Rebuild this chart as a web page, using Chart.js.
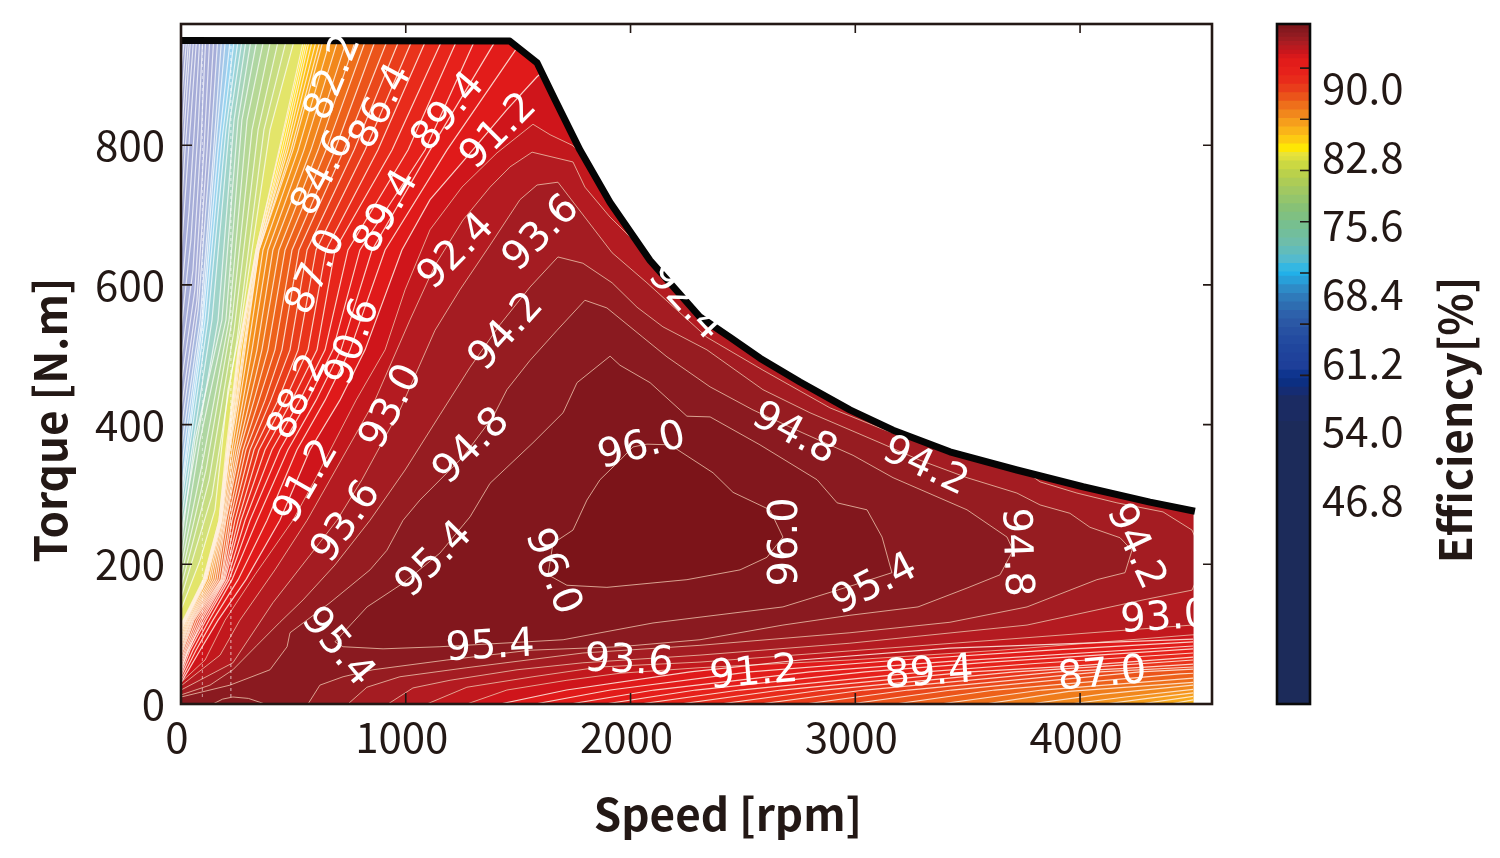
<!DOCTYPE html>
<html><head><meta charset="utf-8">
<script src="https://cdn.jsdelivr.net/npm/chart.js@4"></script>
<style>html,body{margin:0;padding:0;background:#fff}canvas{position:absolute;left:0;top:0}</style>
</head><body>
<canvas id="main" width="1500" height="858"></canvas>
<canvas id="bar" width="1500" height="858"></canvas>
<script>
const speedTicks=[0,1000,2000,3000,4000];
const torqueTicks=[0,200,400,600,800];
const barTickValues=[90.0,82.8,75.6,68.4,61.2,54.0,46.8];
const barLevels=[0.6,40.2,43.8,45,46.2,47.4,48.6,49.8,51,52.2,53.4,54.6,55.8,57,58.2,59.4,60.6,61.2,62.4,63.6,64.8,66,67.2,68.4,69.6,70.8,72,73.2,74.4,75.6,76.8,77.4,78,79.2,80.4,81.6,82.8,84,85.2,86.4,87.6,88.8,90,91.2,91.8,92.4,93,93.6,94.2,94.8,95.4,96];
const stopValues=[0,40.3,43.8,46.2,48,50.9,54.4,57.2,59.4,61.2,62.6,65,67.8,70,72.8,75.6,77.7,78.1,79.8,81.2,82.7,84.1,85.5,86.9,88.3,89.7,91.2,91.8,92.4,93,93.6,94.2,94.8,95.4,96,97];
const stopColors=['#1c2b5a','#1c2b5a','#1a2a6b','#07308a','#1e3f99','#21479e','#2c5aa6','#2f74b6','#2d93ce','#1fb6ee','#4fb9d3','#6cbdae','#77bf8f','#85c178','#a3c860','#c0d445','#e8e33a','#fff200','#fdcb12','#fab01a','#f4951d','#ef7a1b','#ec5a1a','#e93e1b','#e82a1b','#e61e1b','#e01a1a','#cf151b','#c2181d','#b41b21','#a41c22','#961c21','#8a1a20','#82171d','#7c1419','#6f1419'];
const paleValues=[20,53,57,60,63,66,69,72,75,77,78.1];
const paleColors=['#a3a8d4','#a6add8','#a6c2e6','#98d3f0','#9ad3d6','#a6d4bc','#afd6a2','#bcd98a','#d2e07a','#e9e765','#fff200'];

const envelopeSpeed=[0,1463,1584,1664,1775,1909,2087,2309,2443,2576,2754,2976,3168,3421,3719,4013,4311,4511];
const envelopeTorque=[950,949,918,865,793,718,635,554,525,495,461,421,392,361,335,311,289,276];

const rowTorques=[120,178,263,364,435,507,650,793,960];
const s912=[142,254,383,516,641,752,908,1183,1539];
const s906=[125,227,338,476,601,712,850,1108,1419];
const s900=[111,214,307,440,565,676,796,1086,1321];
const s894=[102,205,285,405,529,641,743,1010,1241];
const s888=[93,196,267,374,494,605,685,939,1175];
const s882=[85,191,254,347,463,565,645,876,1103];
const s876=[76,187,240,325,432,521,601,819,1041];
const s870=[67,182,227,307,400,485,561,770,983];
const s864=[58,178,218,289,374,449,525,725,930];
const s858=[53,169,209,276,347,418,494,685,876];
const s852=[49,160,200,262,325,387,463,645,832];
const s846=[44,151,196,254,307,360,436,610,787];
const s840=[40,142,191,245,289,338,409,578,747];
const s834=[36,133,187,236,276,316,387,547,707];
const s828=[31,125,182,227,262,298,365,521,672];
const s822=[27,116,180,218,254,285,347,498,641];
const s816=[22,111,178,214,249,280,347,489,627];
const s810=[22,111,178,214,245,276,343,476,610];
const s804=[18,107,174,209,240,267,343,467,592];
const s798=[18,107,174,209,236,262,338,458,578];
const s792=[13,102,174,205,231,258,338,449,569];
const s786=[13,102,169,205,231,258,334,440,561];
const s780=[9,98,169,200,227,254,334,436,552];

const b918=[[4503,93],[3421,80],[2754,63],[2265,46],[1715,20],[1419,0]];
const b912=[[4503,89],[3866,77],[3199,63],[2531,46],[1910,20],[1575,0]];
const b906=[[4503,83],[3421,61],[2798,46],[2105,20],[1731,0]];
const b900=[[4503,79],[3600,60],[3043,46],[2290,20],[1886,0]];
const b894=[[4503,73],[3800,58],[3310,46],[2486,20],[2042,0]];
const b888=[[4503,67],[4000,55],[3510,46],[2670,20],[2220,0]];
const b882=[[4503,63],[4100,54],[3710,46],[2857,20],[2398,0]];
const b876=[[4503,57],[4200,51],[3902,46],[3040,20],[2576,0]];
const b870=[[4503,53],[4089,46],[3236,20],[2776,0]];
const b864=[[4503,50],[4267,46],[3428,20],[2976,0]];
const b858=[[4503,44],[4445,43],[3620,20],[3177,0]];
const b852=[[4503,37],[3830,20],[3377,0]];
const b846=[[4503,31],[3950,18],[3577,0]];
const b840=[[4503,27],[4100,14],[3777,0]];
const b834=[[4503,21],[4200,10],[3955,0]];
const b828=[[4503,16],[4300,8],[4111,0]];
const b822=[[4503,11],[4267,0]];
const b816=[[4503,6],[4400,0]];

const l918=[[0,30],[85,77],[165,120],[289,178],[440,263],[574,364],[707,435],[819,507],[983,650],[1108,722],[1250,775],[1450,851],[1584,898],[1700,930]];

const c960=[[2073,372],[2176,371],[2367,331],[2456,303],[2620,278],[2678,239],[2607,210],[2487,192],[2251,178],[1895,167],[1717,170],[1633,185],[1655,230],[1744,249],[1806,292],[1864,321],[1953,349],[2011,368],[2073,372]];
const c954=[[1909,498],[1953,485],[2087,460],[2251,412],[2354,411],[2576,371],[2830,321],[2919,288],[3052,278],[3119,239],[3163,188],[2990,170],[2678,139],[2100,116],[1700,92],[1152,82],[899,79],[721,82],[685,89],[828,139],[988,173],[1152,216],[1286,268],[1375,316],[1566,374],[1700,417],[1762,460],[1909,498]];
const lobe954=[[142,0],[185,7],[231,10],[300,8],[374,0]];
const c948=[[0,10],[129,20],[218,27],[396,49],[472,82],[485,102],[663,145],[841,192],[916,220],[988,263],[1063,292],[1255,354],[1388,411],[1450,450],[1553,492],[1673,535],[1797,578],[1895,567],[2055,525],[2162,497],[2354,454],[2545,421],[2767,388],[2990,356],[3168,324],[3497,278],[3675,239],[3702,220],[3644,185],[3497,166],[3279,139],[2976,127],[2678,113],[2309,92],[1953,82],[1553,77],[1183,63],[854,49],[721,39],[618,27],[565,0]];
const c942=[[0,13],[129,27],[231,49],[338,84],[440,117],[543,149],[685,199],[841,263],[997,335],[1152,414],[1286,482],[1419,543],[1553,597],[1677,640],[1788,631],[1918,603],[2029,568],[2144,540],[2340,507],[2589,450],[2798,417],[3110,374],[3288,349],[3497,324],[3719,302],[3822,285],[3955,273],[4044,253],[4178,238],[4231,220],[4200,188],[4075,178],[3764,139],[3421,117],[2976,102],[2309,84],[1788,73],[1272,52],[974,39],[827,24],[743,0]];
const c936=[[0,20],[231,59],[409,145],[574,213],[694,263],[805,321],[974,421],[1130,535],[1241,593],[1375,657],[1508,722],[1584,743],[1677,747],[1806,693],[1918,646],[2073,603],[2340,525],[2589,478],[2887,424],[3110,395],[3199,384],[3466,378],[3688,349],[3822,318],[3986,302],[4164,288],[4369,275],[4498,249],[4556,206],[4498,163],[4280,149],[3764,113],[2976,87],[2309,70],[1788,59],[1495,49],[1197,34],[1032,23],[921,0]];
const c930=[[0,26],[174,70],[262,120],[418,192],[561,263],[663,321],[863,435],[1019,550],[1130,628],[1255,693],[1375,740],[1464,769],[1562,790],[1744,776],[1797,740],[1909,697],[2100,636],[2265,586],[3644,407],[4556,321],[4556,113],[4498,113],[3644,92],[2976,76],[2309,60],[1864,53],[1566,39],[1272,24],[1094,0]];
const c924=[[0,31],[107,63],[196,120],[329,185],[498,263],[596,321],[779,435],[908,507],[997,593],[1108,679],[1250,740],[1406,789],[1566,830],[1642,815],[1740,800],[2309,650],[4556,321],[4556,99],[4498,99],[3644,77],[2976,63],[2309,52],[1953,44],[1717,34],[1450,20],[1272,0]];

const c765=[[0,135],[85,206],[151,278],[209,450],[262,535],[396,822],[512,960]];
const c750=[[0,152],[138,299],[249,521],[369,822],[476,960]];
const c735=[[0,167],[125,321],[236,535],[343,822],[440,960]];
const c720=[[0,182],[111,335],[227,550],[316,822],[405,960]];
const c705=[[0,196],[102,356],[214,550],[294,836],[374,960]];
const c690=[[0,210],[85,378],[200,550],[271,836],[343,960]];
const c675=[[0,228],[62,378],[182,550],[254,836],[316,960]];
const c660=[[0,245],[165,550],[236,836],[294,960]];
const c645=[[0,263],[138,550],[218,836],[276,960]];
const c630=[[0,282],[120,550],[200,822],[258,960]];
const c615=[[0,296],[107,550],[182,807],[240,960]];
const c600=[[0,306],[98,550],[165,793],[222,960]];
const c585=[[0,335],[93,550],[151,786],[200,960]];
const c570=[[0,364],[85,550],[142,779],[182,960]];
const c550=[[0,392],[76,564],[129,786],[165,960]];
const c530=[[0,421],[71,578],[116,793],[147,960]];
const c510=[[0,457],[62,593],[102,793],[129,960]];
const c490=[[0,492],[53,621],[89,807],[111,960]];
const c470=[[0,535],[44,664],[76,822],[98,960]];
const c450=[[0,578],[36,707],[62,836],[85,960]];
const c420=[[0,643],[27,764],[71,960]];
const c390=[[0,700],[18,793],[58,960]];
const c360=[[0,757],[44,960]];
const c330=[[0,807],[36,960]];
const c300=[[0,858],[27,960]];
const c270=[[0,908],[18,960]];

const gridLine1=[[95,10],[95,945]];
const gridLine2=[[222,10],[222,945]];

const labelTexts=['82.2','84.6','86.4','89.4','91.2','89.4','87.0','92.4','93.6','88.2','90.6','94.2','93.0','91.2','94.8','93.6','96.0','95.4','96.0','96.0','95.4','95.4','93.6','91.2','89.4','87.0','95.4','94.8','94.2','94.8','94.2','93.0','92.4'];
const labelSpeeds=[681,636,894,1192,1415,917,605,1228,1606,525,770,1450,939,561,1295,739,2051,1130,1650,2696,694,1375,1993,2549,3328,4098,3088,2727,3310,3711,4244,4378,2242];
const labelTorques=[897,759,855,847,819,704,618,647,673,439,518,532,425,318,368,260,368,206,189,232,81,81,60,43,43,41,170,386,339,217,225,122,575];
const labelAngles=[-68,-62,-62,-50,-45,-60,-65,-45,-45,-65,-70,-48,-62,-60,-45,-55,-15,-45,68,-90,50,-3,3,-5,-4,-5,-27,28,25,88,65,-4,47];

const tickFont='"Noto Sans CJK JP"';
const ink='#231815';

function lerpColor(v,vals,cols){
  if(v<=vals[0])return cols[0];
  for(let i=1;i<vals.length;i++){
    if(v<=vals[i]){
      const t=(v-vals[i-1])/(vals[i]-vals[i-1]);
      const a=cols[i-1],b=cols[i];
      const ch=k=>Math.round(parseInt(a.substr(k,2),16)*(1-t)+parseInt(b.substr(k,2),16)*t);
      return 'rgb('+ch(1)+','+ch(3)+','+ch(5)+')';
    }
  }
  return cols[cols.length-1];
}
const barColor=v=>lerpColor(v,stopValues,stopColors);
const fieldColor=v=>v<78.1?lerpColor(v,paleValues,paleColors):barColor(v);

function row(edge,extra,speeds){
  const out=[[0,edge]];
  if(extra)out.push([extra,77]);
  speeds.forEach((s,i)=>out.push([s,rowTorques[i]]));
  return out;
}
const contours=[
 [27,c270,'wrap'],[30,c300,'wrap'],[33,c330,'wrap'],[36,c360,'wrap'],[39,c390,'wrap'],[42,c420,'wrap'],[45,c450,'wrap'],[47,c470,'wrap'],[49,c490,'wrap'],[51,c510,'wrap'],[53,c530,'wrap'],[55,c550,'wrap'],[57,c570,'wrap'],[58.5,c585,'wrap'],[60,c600,'wrap'],[61.5,c615,'wrap'],[63,c630,'wrap'],[64.5,c645,'wrap'],[66,c660,'wrap'],[67.5,c675,'wrap'],[69,c690,'wrap'],[70.5,c705,'wrap'],[72,c720,'wrap'],[73.5,c735,'wrap'],[75,c750,'wrap'],[76.5,c765,'wrap'],
 [78,row(116,0,s780),'wrap'],[78.6,row(115,0,s786),'wrap'],[79.2,row(114,0,s792),'wrap'],[79.8,row(112,0,s798),'wrap'],[80.4,row(109,0,s804),'wrap'],[81,row(106,0,s810),'wrap'],
 [81.6,row(103,0,s816),'split',b816],[82.2,row(99,0,s822),'split',b822],[82.8,row(94,0,s828),'split',b828],[83.4,row(90,0,s834),'split',b834],[84,row(86,0,s840),'split',b840],[84.6,row(82,0,s846),'split',b846],[85.2,row(77,0,s852),'split',b852],[85.8,row(73,0,s858),'split',b858],[86.4,row(69,0,s864),'split',b864],[87,row(64,0,s870),'split',b870],[87.6,row(60,0,s876),'split',b876],[88.2,row(56,0,s882),'split',b882],[88.8,row(52,0,s888),'split',b888],[89.4,row(47,31,s894),'split',b894],[90,row(43,40,s900),'split',b900],[90.6,row(39,53,s906),'split',b906],[91.2,row(34,67,s912),'split',b912],[91.8,l918,'split',b918],
 [92.4,c924,'origin'],[93,c930,'origin'],[93.6,c936,'origin'],[94.2,c942,'origin'],[94.8,c948,'origin'],[95.4,c954,'loop'],[95.4,lobe954,'loop'],[96,c960,'loop']
];
const pts=a=>a.map(p=>({x:p[0],y:p[1]}));
function contourData(c){
  const d=pts(c[1]);
  if(c[3]){d.push({x:null,y:null});pts(c[3]).forEach(p=>d.push(p));}
  return d;
}
function lineColor(l){return l>=92?'rgba(238,196,172,0.8)':l>=78?'rgba(255,240,228,0.85)':'rgba(255,255,255,0.72)';}
const contourSets=contours.map(c=>({
  type:'scatter',showLine:true,data:contourData(c),pointRadius:0,borderWidth:c[0]>=92?1:1.2,
  borderColor:lineColor(c[0]),fill:false,tension:0,spanGaps:false,level:c[0],closure:c[2]
}));
const envelopeData=envelopeSpeed.map((s,i)=>({x:s,y:envelopeTorque[i]}));
const maskData=envelopeData.slice(0,-1).concat([{x:4505,y:277},{x:4505,y:0},{x:4587,y:0}]);
const topSets=[
 {type:'scatter',showLine:true,data:envelopeData,pointRadius:0,borderWidth:7,borderColor:'#050505',fill:false,borderJoinStyle:'round'},
 {type:'scatter',showLine:true,data:maskData,pointRadius:0,borderWidth:0,borderColor:'rgba(0,0,0,0)',backgroundColor:'#ffffff',fill:'end'},
 {type:'scatter',showLine:true,data:pts(gridLine1),pointRadius:0,borderWidth:1,borderColor:'rgba(255,255,255,0.55)',borderDash:[3,3],fill:false},
 {type:'scatter',showLine:true,data:pts(gridLine2),pointRadius:0,borderWidth:1,borderColor:'rgba(255,255,255,0.7)',borderDash:[3,3],fill:false}
];
const offset=topSets.length;

const fieldPlugin={id:'field',beforeDatasetsDraw(chart){
  const c=chart.ctx,ca=chart.chartArea,xs=chart.scales.x,ys=chart.scales.y;
  c.save();c.beginPath();c.rect(ca.left,ca.top,ca.width,ca.height);c.clip();
  c.fillStyle=fieldColor(24);c.fillRect(ca.left,ca.top,ca.width,ca.height);
  const ox=xs.getPixelForValue(0),oy=ys.getPixelForValue(0);
  contourSets.forEach((ds,i)=>{
    const m=chart.getDatasetMeta(i+offset).data;
    c.beginPath();let gap=false,first=true;
    m.forEach(p=>{
      if(p.skip){c.lineTo(ca.right,ca.top);gap=true;return;}
      if(gap){c.lineTo(ca.right,p.y);gap=false;}
      if(first){c.moveTo(p.x,p.y);first=false;}else c.lineTo(p.x,p.y);
    });
    if(ds.closure==='wrap'){c.lineTo(ca.right,ca.top);c.lineTo(ca.right,ca.bottom);c.lineTo(ox,oy);}
    else if(ds.closure!=='loop'){c.lineTo(ox,oy);}
    c.closePath();c.fillStyle=fieldColor(ds.level);c.fill();
  });
  c.restore();
}};
const overlayPlugin={id:'overlay',afterDatasetsDraw(chart){
  const c=chart.ctx,ca=chart.chartArea,xs=chart.scales.x,ys=chart.scales.y;
  c.save();c.beginPath();c.rect(ca.left,ca.top,ca.width,ca.height);c.clip();
  c.fillStyle='#ffffff';c.font='40px "DejaVu Sans"';c.textAlign='center';c.textBaseline='middle';
  labelTexts.forEach((t,i)=>{
    c.save();c.translate(xs.getPixelForValue(labelSpeeds[i]),ys.getPixelForValue(labelTorques[i]));
    c.rotate(labelAngles[i]*Math.PI/180);c.fillText(t,0,0);c.restore();
  });
  c.restore();
  c.strokeStyle=ink;c.lineWidth=1.6;c.beginPath();
  speedTicks.forEach(v=>{if(!v)return;const x=xs.getPixelForValue(v);c.moveTo(x,ca.bottom);c.lineTo(x,ca.bottom-11);c.moveTo(x,ca.top);c.lineTo(x,ca.top+9);});
  torqueTicks.forEach(v=>{if(!v)return;const y=ys.getPixelForValue(v);c.moveTo(ca.left,y);c.lineTo(ca.left+11,y);c.moveTo(ca.right,y);c.lineTo(ca.right-9,y);});
  c.stroke();
  c.lineWidth=2.6;c.strokeRect(ca.left,ca.top,ca.width,ca.height);
  c.fillStyle=ink;c.font='bold 44px '+tickFont;c.textAlign='center';c.textBaseline='middle';
  c.fillText('Speed [rpm]',728,814);
  c.save();c.translate(50,420);c.rotate(-Math.PI/2);c.fillText('Torque [N.m]',0,0);c.restore();
}};
new Chart(document.getElementById('main'),{
  type:'scatter',
  data:{datasets:topSets.concat(contourSets)},
  options:{responsive:false,animation:false,devicePixelRatio:1,
    layout:{padding:{top:24,right:288,left:0,bottom:0}},
    plugins:{legend:{display:false},tooltip:{enabled:false}},
    events:[],
    scales:{
      x:{type:'linear',min:0,max:4587,grid:{display:false},border:{display:false},
        afterBuildTicks:a=>{a.ticks=speedTicks.map(v=>({value:v}));},
        afterFit:a=>{a.height=154;a.paddingLeft=0;a.paddingRight=0;},
        ticks:{font:{family:tickFont,size:42},color:ink,padding:0,labelOffset:-4,maxRotation:0,autoSkip:false,callback:v=>String(v)}},
      y:{type:'linear',min:0,max:973.5,grid:{display:false},border:{display:false},
        afterBuildTicks:a=>{a.ticks=torqueTicks.map(v=>({value:v}));},
        afterFit:a=>{a.width=181;a.paddingTop=0;a.paddingBottom=0;},
        ticks:{font:{family:tickFont,size:42},color:ink,padding:8,autoSkip:false,callback:v=>String(v)}}
    }
  },
  plugins:[fieldPlugin,overlayPlugin]
});

const barSets=barLevels.map((lo,i)=>{
  const hi=i+1<barLevels.length?barLevels[i+1]:96.2;
  return {data:[[lo,hi+0.15]],backgroundColor:barColor((lo+hi)/2),borderWidth:0,barPercentage:1,categoryPercentage:1,yAxisID:'y'};
});
const barFrame={id:'barFrame',afterDatasetsDraw(chart){
  const c=chart.ctx,ca=chart.chartArea,ys=chart.scales.y;
  c.strokeStyle=ink;c.lineWidth=1.6;c.beginPath();
  barTickValues.forEach(v=>{const y=ys.getPixelForValue(v);c.moveTo(ca.right,y);c.lineTo(ca.right-10,y);});
  c.stroke();
  c.strokeStyle='#0a0a0a';c.lineWidth=2.6;c.strokeRect(ca.left,ca.top,ca.width,ca.height);
  c.save();c.translate(1455,420);c.rotate(-Math.PI/2);
  c.fillStyle=ink;c.font='bold 44px '+tickFont;c.textAlign='center';c.textBaseline='middle';
  c.fillText('Efficiency[%]',0,0);c.restore();
}};
new Chart(document.getElementById('bar'),{
  type:'bar',
  data:{labels:[''],datasets:barSets},
  options:{responsive:false,animation:false,devicePixelRatio:1,events:[],
    layout:{padding:{top:24,left:1277,right:0,bottom:154}},
    plugins:{legend:{display:false},tooltip:{enabled:false}},
    scales:{
      x:{stacked:true,display:false},
      y:{type:'linear',min:0.6,max:96.2,display:false,stacked:false},
      y2:{type:'linear',position:'right',min:25.4,max:96.71,grid:{display:false},border:{display:false},
        afterBuildTicks:a=>{a.ticks=barTickValues.map(v=>({value:v}));},
        afterFit:a=>{a.width=190;a.paddingTop=0;a.paddingBottom=0;},
        ticks:{font:{family:tickFont,size:42},color:ink,padding:4,autoSkip:false,callback:v=>v.toFixed(1)}}
    }
  },
  plugins:[barFrame]
});
</script>
</body></html>
